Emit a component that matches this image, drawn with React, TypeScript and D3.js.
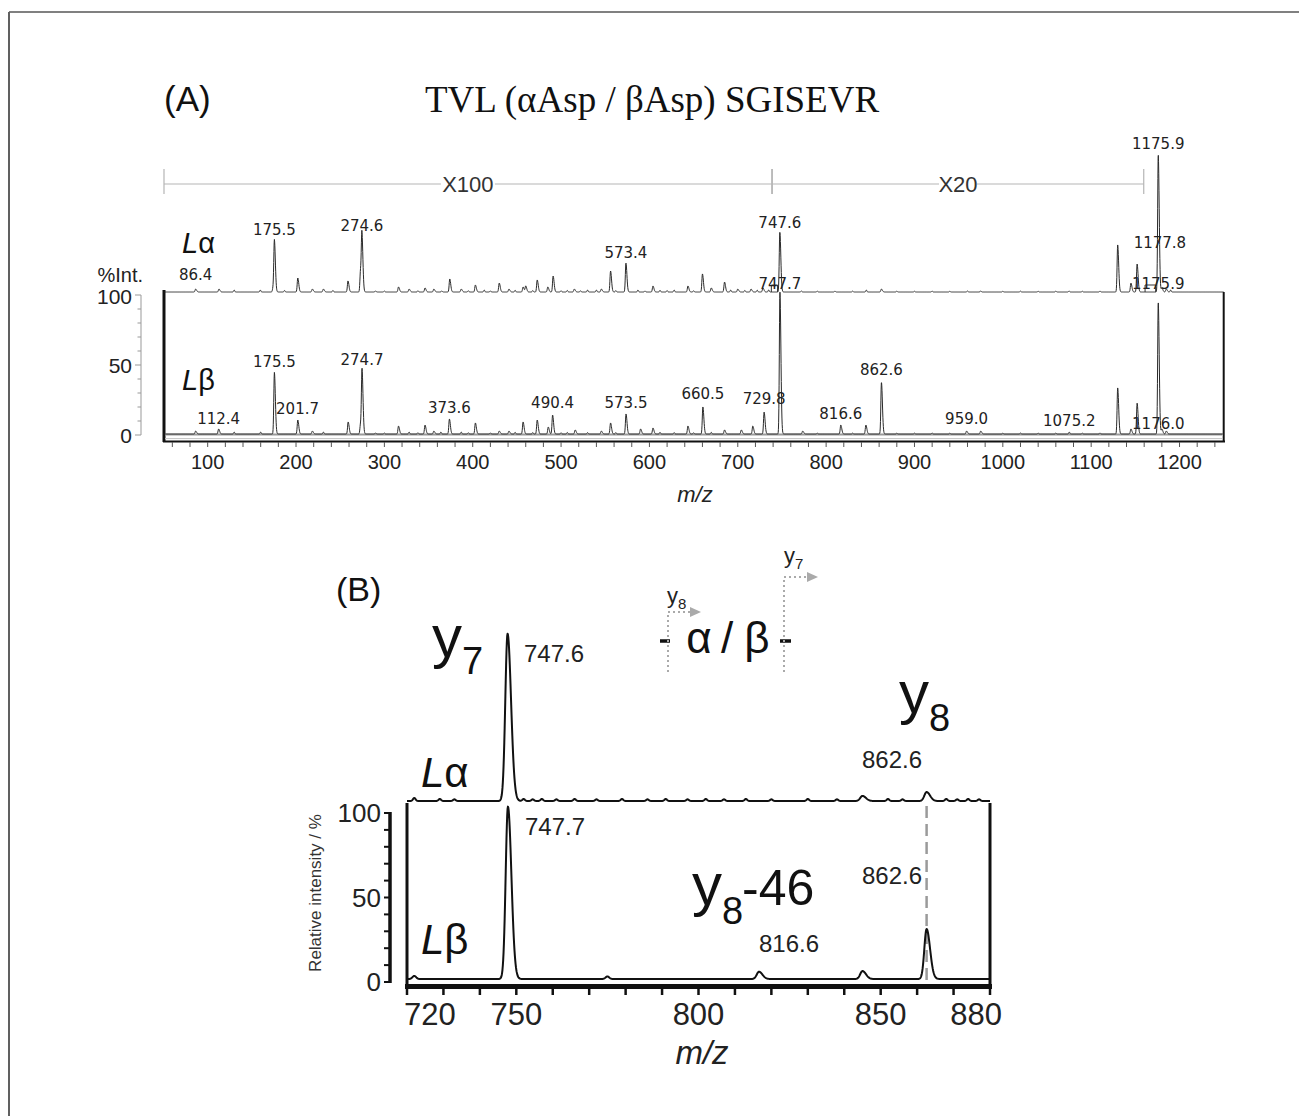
import React from "react";
import * as d3 from "d3";

const W = 1299;
const H = 1116;

// ---------------- Panel A data ----------------
const aXTickLabels = [100, 200, 300, 400, 500, 600, 700, 800, 900, 1000, 1100, 1200];
const aYTickLabels = [0, 50, 100];

// [m/z, relative height %]  (Lα trace, upper)
const aLaPeaks: [number, number][] = [
  [86.4, 2.1], [112.8, 2.1], [130, 1.4], [159.6, 1.4], [174, 2.9], [175.5, 36.4], [187, 1.1],
  [202, 10], [218.5, 2.1], [231, 2.1], [241.8, 1.1], [258.8, 7.9], [273, 15], [274.6, 38.6],
  [290, 0.8], [300, 0.7], [316, 3.6], [328, 2.1], [338, 0.9], [346, 2.9], [356, 2.1], [365, 0.8],
  [374, 9.3], [387, 2.1], [395, 0.9], [403, 5], [413, 1.4], [420, 0.8], [430, 6.4], [441, 2.1],
  [448, 1.2], [457, 3.6], [460, 4.3], [468, 1.0], [473, 8.6], [485, 3.6], [491, 11.4], [500, 0.9],
  [507, 1.1], [515, 2.1], [522, 0.9], [530, 1.4], [540, 1.4], [545.6, 2.1], [556, 15], [562, 1.0],
  [573.4, 20.7], [587, 1.4], [595, 0.8], [604, 4.3], [612, 1.2], [620, 1.0], [628, 1.4], [643.6, 4.3],
  [650, 0.9], [660, 12.9], [670, 2.9], [685, 7.1], [692, 1.4], [700, 2.1], [708, 1.1], [715, 2.1],
  [722, 1.3], [728.5, 2.9], [735, 1.5], [747.6, 43], [772, 0.7], [790, 0.6], [810, 0.6], [830, 0.6],
  [845.5, 1.4], [862.6, 2.1], [880, 0.6], [900, 0.5], [920, 0.6], [940, 0.5], [960, 0.7], [975, 0.8],
  [1000, 0.5], [1020, 0.6], [1040, 0.5], [1060, 0.6], [1075, 0.7], [1090, 0.5], [1110, 0.6],
  [1130, 33.6], [1145, 6.4], [1152, 20], [1175.9, 98], [1180, 2.9], [1185, 2.1], [1190, 1.4],
];

// Lβ trace, lower
const aLbPeaks: [number, number][] = [
  [86.4, 2.1], [112.4, 3.6], [130, 1.4], [160, 1.4], [175.5, 44], [202, 10], [218.5, 2.1],
  [231, 1.4], [259, 8.6], [273, 7.1], [274.7, 45], [290, 0.8], [300, 0.7], [316, 5.7], [328, 1.4],
  [338, 0.9], [346, 6.4], [356, 2.1], [364, 1.4], [373.6, 10.7], [387, 1.4], [395, 0.9], [403, 7.9],
  [420, 0.8], [430, 2.1], [441, 2.1], [448, 1.2], [457, 8.6], [468, 1.0], [473, 10], [485.5, 5],
  [490.4, 13.6], [500, 0.9], [507, 1.1], [516, 2.9], [530, 1.0], [545.6, 2.1], [556, 7.9],
  [562, 1.0], [573.5, 14.3], [590, 3.6], [604, 4.3], [612, 1.2], [628, 1.0], [643.6, 5.7],
  [650, 0.9], [660.5, 19.3], [670, 1.2], [685, 2.9], [704, 2.9], [717, 5.7], [729.8, 15.7],
  [747.7, 101.4], [773.5, 2.1], [790, 0.6], [816.6, 6.4], [830, 0.6], [845, 6.4], [862.6, 37],
  [880, 0.6], [900, 0.6], [920, 0.7], [940, 0.6], [959, 2.1], [975, 2.1], [1000, 0.6], [1020, 0.7],
  [1040, 0.6], [1060, 0.7], [1075.2, 1.4], [1090, 0.6], [1110, 0.8], [1130, 32.9], [1145, 3.6],
  [1152, 22], [1175.9, 94], [1180, 3.6], [1185, 2.1],
];

const aLaLabels = [
  { mz: 86.4, text: "86.4" },
  { mz: 175.5, text: "175.5" },
  { mz: 274.6, text: "274.6" },
  { mz: 573.4, text: "573.4" },
  { mz: 747.6, text: "747.6" },
  { mz: 1175.9, text: "1175.9" },
  { mz: 1177.8, text: "1177.8" },
];
const aLbLabels = [
  { mz: 112.4, text: "112.4" },
  { mz: 175.5, text: "175.5" },
  { mz: 201.7, text: "201.7" },
  { mz: 274.7, text: "274.7" },
  { mz: 373.6, text: "373.6" },
  { mz: 490.4, text: "490.4" },
  { mz: 573.5, text: "573.5" },
  { mz: 660.5, text: "660.5" },
  { mz: 729.8, text: "729.8" },
  { mz: 747.7, text: "747.7" },
  { mz: 816.6, text: "816.6" },
  { mz: 862.6, text: "862.6" },
  { mz: 959.0, text: "959.0" },
  { mz: 1075.2, text: "1075.2" },
  { mz: 1175.9, text: "1175.9" },
  { mz: 1176.0, text: "1176.0" },
];
// magnification sections (m/z limits of the scale bar)
const aScaleSections = [
  { from: 50, to: 738.5, text: "X100" },
  { from: 738.5, to: 1159.5, text: "X20" },
];

// ---------------- Panel B data ----------------
const bXTickLabels = [720, 750, 800, 850, 880];
const bYTickLabels = [0, 50, 100];
const bLaPeaks: [number, number][] = [
  [722, 1.8], [729, 1.2], [733, 1.0], [747.6, 99], [752, 1.2], [754.5, 1.0], [757, 1.2],
  [761, 1.0], [766, 1.2], [772, 1.0], [779, 1.2], [786, 1.0], [791, 1.2], [797, 1.0], [802, 1.2],
  [807, 1.0], [813, 1.2], [820, 1.0], [830, 1.2], [838, 1.0], [845, 3.0], [852, 1.2], [856, 1.0],
  [862.6, 5.3], [868, 1.2], [871, 1.0], [874, 1.2], [877, 1.0],
];
const bLbPeaks: [number, number][] = [
  [722, 1.8], [747.7, 102], [775, 1.5], [816.6, 4.3], [845, 4.7], [862.6, 29.6],
];

// ---------------- helpers ----------------
function buildTrace(peaks: [number, number][], m0: number, m1: number, step: number, sl: number, sr: number, narrow: number) {
  const out: [number, number][] = [];
  const n = Math.round((m1 - m0) / step);
  for (let i = 0; i <= n; i++) {
    const m = m0 + i * step;
    let v = 0;
    for (const [c, h] of peaks) {
      const d = m - c;
      const L = h < 2 ? narrow : sl;
      const R = h < 2 ? narrow : sr;
      if (d < -6 * L || d > 6 * R) continue;
      const s = d < 0 ? L : R;
      v += h * Math.exp(-0.5 * (d / s) * (d / s));
    }
    out.push([m, v]);
  }
  return out;
}

const SANS = "'Liberation Sans', Arial, sans-serif";
const DV = "'DejaVu Sans', Verdana, sans-serif";
const SERIF = "'Liberation Serif', 'Times New Roman', serif";

function PanelA() {
  const xA = d3.scaleLinear().domain([50, 1250]).range([163.5, 1223.7]);
  const yA = d3.scaleLinear().domain([0, 100]).range([435, 295]);
  const k = yA(0) - yA(1);
  const laBase = 292;
  const lbBase = 434;

  const la = buildTrace(aLaPeaks, 50, 1250, 0.25, 0.65, 1.1, 0.6);
  const lb = buildTrace(aLbPeaks, 50, 1250, 0.25, 0.65, 1.1, 0.6);
  const lineTop = d3.line<[number, number]>().x((d) => xA(d[0])).y((d) => laBase - d[1] * k);
  const lineBot = d3.line<[number, number]>().x((d) => xA(d[0])).y((d) => lbBase - d[1] * k);

  const minor = d3.range(60, 1250, 20);
  const yMinor = d3.range(0, 101, 10);

  const laLabelY = [274, 229, 225, 252, 222, 143, 242];
  const lbLabelY = [418, 361, 408, 359, 407, 402, 402, 393, 398, 283, 413, 369, 418, 420, 283, 423];

  const scaleY = 184;
  const labelW = [54, 38];

  return (
    <g>
      {/* title */}
      <text x={164} y={111} fontFamily={SANS} fontSize={35} fill="#111">(A)</text>
      <text x={425} y={112} fontFamily={SERIF} fontSize={37} fill="#111">TVL (αAsp / βAsp) SGISEVR</text>

      {/* magnification scale bar */}
      {aScaleSections.map((s, i) => {
        const x1 = xA(s.from) + 0.5;
        const x2 = xA(s.to);
        const cx = (x1 + x2) / 2;
        return (
          <g key={i}>
            <line x1={x1} x2={cx - labelW[i] / 2} y1={scaleY} y2={scaleY} stroke="#b5b5b5" strokeWidth={1.2} />
            <line x1={cx + labelW[i] / 2} x2={x2} y1={scaleY} y2={scaleY} stroke="#b5b5b5" strokeWidth={1.2} />
            <line x1={x1} x2={x1} y1={169} y2={194} stroke="#b5b5b5" strokeWidth={1.2} />
            <line x1={x2} x2={x2} y1={169} y2={194} stroke="#b5b5b5" strokeWidth={1.2} />
            <text x={cx} y={scaleY + 8} textAnchor="middle" fontFamily={SANS} fontSize={22} fill="#333">{s.text}</text>
          </g>
        );
      })}

      {/* y axis (small, left) */}
      <line x1={141} x2={141} y1={yA(100)} y2={yA(0)} stroke="#999" strokeWidth={1} />
      {yMinor.map((v) => (
        <line key={v} x1={v % 50 === 0 ? 135 : 137.5} x2={141} y1={yA(v)} y2={yA(v)} stroke="#999" strokeWidth={1} />
      ))}
      {aYTickLabels.map((v) => (
        <text key={v} x={132} y={yA(v) + (v === 100 ? 9 : 8)} textAnchor="end" fontFamily={SANS} fontSize={21} fill="#222">{v}</text>
      ))}
      <text x={143} y={282} textAnchor="end" fontFamily={SANS} fontSize={20} fill="#222">%Int.</text>

      {/* frame */}
      <line x1={164} x2={164} y1={290} y2={442} stroke="#111" strokeWidth={3} />
      <line x1={1223.7} x2={1223.7} y1={292} y2={442} stroke="#111" strokeWidth={2} />
      <line x1={163} x2={1225} y1={441.5} y2={441.5} stroke="#111" strokeWidth={2} />
      {minor.map((v) => (
        <line key={v} x1={xA(v)} x2={xA(v)} y1={442} y2={447} stroke="#555" strokeWidth={1} />
      ))}
      {aXTickLabels.map((v) => (
        <text key={v} x={xA(v)} y={469} textAnchor="middle" fontFamily={SANS} fontSize={20} fill="#222">{v}</text>
      ))}
      <text x={695} y={502} textAnchor="middle" fontFamily={SANS} fontStyle="italic" fontSize={22} fill="#222">m/z</text>

      {/* lower baselines */}
      <line x1={165} x2={1222} y1={lbBase + 0.5} y2={lbBase + 0.5} stroke="#9a9a9a" strokeWidth={2.2} />
      <line x1={165} x2={1222} y1={438.6} y2={438.6} stroke="#c4c4c4" strokeWidth={1} />

      {/* traces */}
      <path d={lineBot(lb) || ""} fill="none" stroke="#2a2a2a" strokeWidth={1} />
      <path d={lineTop(la) || ""} fill="none" stroke="#2a2a2a" strokeWidth={1} />

      {/* section notches on upper trace */}
      <path d={`M${xA(738)},${laBase} V${laBase - 7} H${xA(745)} V${laBase}`} fill="none" stroke="#333" strokeWidth={1} />
      <path d={`M${xA(1161)},${laBase} V${laBase - 7} H${xA(1173)} V${laBase}`} fill="none" stroke="#333" strokeWidth={1} />

      {/* labels */}
      <text x={182} y={253} fontFamily={SANS} fontSize={29} fill="#111"><tspan fontStyle="italic">L</tspan>α</text>
      <text x={182} y={390} fontFamily={SANS} fontSize={29} fill="#111"><tspan fontStyle="italic">L</tspan>β</text>
      {aLaLabels.map((l, i) => (
        <text key={"a" + i} x={xA(l.mz)} y={laLabelY[i] + 5.5} textAnchor="middle" fontFamily={DV} fontSize={15} fill="#222">{l.text}</text>
      ))}
      {aLbLabels.map((l, i) => (
        <text key={"b" + i} x={xA(l.mz)} y={lbLabelY[i] + 5.5} textAnchor="middle" fontFamily={DV} fontSize={15} fill="#222">{l.text}</text>
      ))}
    </g>
  );
}

function PanelB() {
  const xB = d3.scaleLinear().domain([720, 880]).range([407, 990]);
  const yB = d3.scaleLinear().domain([0, 100]).range([982, 813]);
  const k = yB(0) - yB(1);
  const laBase = 801;
  const lbBase = 979;

  const la = buildTrace(bLaPeaks, 720, 880, 0.1, 0.62, 0.95, 0.35);
  const lb = buildTrace(bLbPeaks, 720, 880, 0.1, 0.62, 0.95, 0.5);
  const lineTop = d3.line<[number, number]>().x((d) => xB(d[0])).y((d) => laBase - d[1] * k);
  const lineBot = d3.line<[number, number]>().x((d) => xB(d[0])).y((d) => lbBase - d[1] * k);

  const xMinor = d3.range(720, 881, 10);
  const yMinor = d3.range(0, 101, 10);
  const xDash = xB(862.6);

  return (
    <g>
      <text x={336} y={601} fontFamily={SANS} fontSize={34} fill="#111">(B)</text>

      {/* y axis */}
      <line x1={390} x2={390} y1={yB(100) - 1} y2={yB(0) + 1} stroke="#111" strokeWidth={3.5} />
      {yMinor.map((v) => (
        <line key={v} x1={384} x2={390} y1={yB(v)} y2={yB(v)} stroke="#111" strokeWidth={2} />
      ))}
      {bYTickLabels.map((v) => (
        <text key={v} x={381} y={yB(v) + 9} textAnchor="end" fontFamily={SANS} fontSize={26} fill="#222">{v}</text>
      ))}
      <text transform={`translate(321,893) rotate(-90)`} textAnchor="middle" fontFamily={SANS} fontSize={17} fill="#333">Relative intensity / %</text>

      {/* frame */}
      <line x1={407} x2={407} y1={803} y2={989} stroke="#111" strokeWidth={3} />
      <line x1={990} x2={990} y1={803} y2={989} stroke="#111" strokeWidth={3} />
      <line x1={405} x2={992} y1={986.5} y2={986.5} stroke="#111" strokeWidth={5} />
      {xMinor.map((v) => (
        <line key={v} x1={xB(v)} x2={xB(v)} y1={988} y2={995} stroke="#111" strokeWidth={2.5} />
      ))}
      {bXTickLabels.map((v, i) => {
        const first = i === 0;
        const last = i === bXTickLabels.length - 1;
        return (
          <text key={v} x={first ? xB(v) - 3 : last ? xB(v) + 12 : xB(v)} y={1025}
            textAnchor={first ? "start" : last ? "end" : "middle"} fontFamily={SANS} fontSize={31} fill="#222">{v}</text>
        );
      })}
      <text x={702} y={1064} textAnchor="middle" fontFamily={SANS} fontStyle="italic" fontSize={33} fill="#222">m/z</text>

      {/* dashed marker */}
      <line x1={xDash} x2={xDash} y1={806} y2={982} stroke="#9a9a9a" strokeWidth={2.5} strokeDasharray="12 6" />

      {/* traces */}
      <path d={lineTop(la) || ""} fill="none" stroke="#111" strokeWidth={2} strokeLinejoin="round" />
      <path d={lineBot(lb) || ""} fill="none" stroke="#111" strokeWidth={2} strokeLinejoin="round" />

      {/* annotations */}
      <text x={432} y={657} fontFamily={SANS} fontSize={60} fill="#111">y</text>
      <text x={462} y={674} fontFamily={SANS} fontSize={38} fill="#111">7</text>
      <text x={554} y={662} textAnchor="middle" fontFamily={SANS} fontSize={24} fill="#222">747.6</text>

      <line x1={660} x2={670} y1={641} y2={641} stroke="#111" strokeWidth={3.5} />
      <text x={699} y={653} textAnchor="middle" fontFamily={SANS} fontSize={44} fill="#111">α</text>
      <text x={727} y={653} textAnchor="middle" fontFamily={SANS} fontSize={44} fill="#111">/</text>
      <text x={757} y={653} textAnchor="middle" fontFamily={SANS} fontSize={44} fill="#111">β</text>
      <line x1={780} x2={791} y1={641} y2={641} stroke="#111" strokeWidth={3.5} />

      <path d="M668,672 V612 H690" fill="none" stroke="#aaa" strokeWidth={2} strokeDasharray="2 3" />
      <path d="M690,607 L701,612 L690,617 Z" fill="#aaa" />
      <text x={667} y={603} fontFamily={SANS} fontSize={22} fill="#222">y</text>
      <text x={678} y={609} fontFamily={SANS} fontSize={15} fill="#222">8</text>

      <path d="M784,672 V577 H807" fill="none" stroke="#aaa" strokeWidth={2} strokeDasharray="2 3" />
      <path d="M807,572 L818,577 L807,582 Z" fill="#aaa" />
      <text x={784} y={563} fontFamily={SANS} fontSize={22} fill="#222">y</text>
      <text x={795} y={569} fontFamily={SANS} fontSize={15} fill="#222">7</text>

      <text x={899} y={713} fontFamily={SANS} fontSize={60} fill="#111">y</text>
      <text x={929} y={731} fontFamily={SANS} fontSize={38} fill="#111">8</text>
      <text x={892} y={768} textAnchor="middle" fontFamily={SANS} fontSize={24} fill="#222">862.6</text>

      <text x={421} y={787} fontFamily={SANS} fontSize={42} fill="#111"><tspan fontStyle="italic">L</tspan>α</text>
      <text x={555} y={835} textAnchor="middle" fontFamily={SANS} fontSize={24} fill="#222">747.7</text>

      <text x={692} y={905} fontFamily={SANS} fontSize={60} fill="#111">y</text>
      <text x={722} y={924} fontFamily={SANS} fontSize={38} fill="#111">8</text>
      <text x={742} y={905} fontFamily={SANS} fontSize={50} fill="#111">-46</text>
      <text x={892} y={884} textAnchor="middle" fontFamily={SANS} fontSize={24} fill="#222">862.6</text>
      <text x={789} y={952} textAnchor="middle" fontFamily={SANS} fontSize={24} fill="#222">816.6</text>
      <text x={421} y={954} fontFamily={SANS} fontSize={42} fill="#111"><tspan fontStyle="italic">L</tspan>β</text>
    </g>
  );
}

export default function App() {
  return (
    <svg width={W} height={H} viewBox={`0 0 ${W} ${H}`} style={{ position: "absolute", left: 0, top: 0, background: "#fff" }}>
      <rect x={0} y={0} width={W} height={H} fill="#fff" />
      <line x1={9} x2={W} y1={12} y2={12} stroke="#808080" strokeWidth={2} />
      <line x1={9} x2={9} y1={12} y2={H} stroke="#606060" strokeWidth={2} />
      <PanelA />
      <PanelB />
    </svg>
  );
}
